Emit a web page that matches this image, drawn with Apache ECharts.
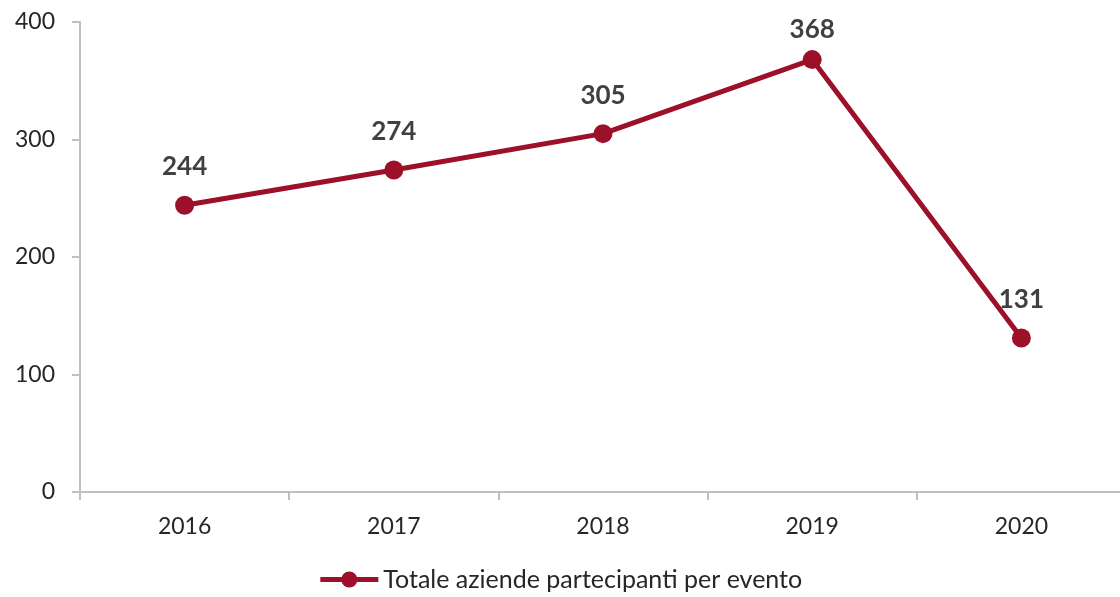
<!DOCTYPE html>
<html>
<head>
<meta charset="utf-8">
<script src="https://cdn.jsdelivr.net/npm/echarts@6/dist/echarts.min.js"></script>
<style>
  html, body { margin: 0; padding: 0; background: #fff; }
  #chart { width: 1120px; height: 597px; }
</style>
</head>
<body>
<div id="chart"></div>
<script>
// dati
const anni = ['2016', '2017', '2018', '2019', '2020'];
const totaleAziende = [244, 274, 305, 368, 131];
const nomeSerie = 'Totale aziende partecipanti per evento';

const chart = echarts.init(document.getElementById('chart'));
const font = 'Lato, "Open Sans", sans-serif';
const rosso = '#9c1029';

// il punto più alto ha l'etichetta più vicina (come nell'originale)
const maxVal = Math.max(...totaleAziende);
const datiSerie = totaleAziende.map(v => (
  v === maxVal ? { value: v, label: { distance: 7 } } : v
));

const option = {
  animation: false,
  textStyle: { fontFamily: font },
  grid: {
    left: 80,
    top: 22,
    width: 1046,
    bottom: 105,
    containLabel: false,
    outerBoundsMode: 'none'
  },
  legend: {
    bottom: 0,
    left: 'center',
    itemWidth: 58,
    itemHeight: 20,
    itemGap: 8,
    lineStyle: { width: 5 },
    textStyle: { fontSize: 25, color: '#262626', fontFamily: font },
    data: [nomeSerie]
  },
  xAxis: {
    type: 'category',
    data: anni,
    boundaryGap: true,
    axisLine: { lineStyle: { color: '#bfbfbf', width: 2 } },
    axisTick: { show: true, length: 8, lineStyle: { color: '#bfbfbf', width: 2 } },
    axisLabel: { fontSize: 23, color: '#262626', margin: 23 }
  },
  yAxis: {
    type: 'value',
    min: 0,
    max: 400,
    interval: 100,
    splitLine: { show: false },
    axisLine: { show: true, lineStyle: { color: '#bfbfbf', width: 2 } },
    axisTick: { show: true, inside: false, length: 8, lineStyle: { color: '#bfbfbf', width: 2 } },
    axisLabel: { fontSize: 23, color: '#262626', margin: 25 }
  },
  series: [
    {
      name: nomeSerie,
      type: 'line',
      data: datiSerie,
      symbol: 'circle',
      symbolSize: 19,
      lineStyle: { color: rosso, width: 5 },
      itemStyle: { color: rosso },
      label: {
        show: true,
        position: 'top',
        distance: 16,
        fontSize: 26,
        fontWeight: 'bold',
        color: '#404040'
      }
    }
  ]
};

chart.setOption(option);
</script>
</body>
</html>
